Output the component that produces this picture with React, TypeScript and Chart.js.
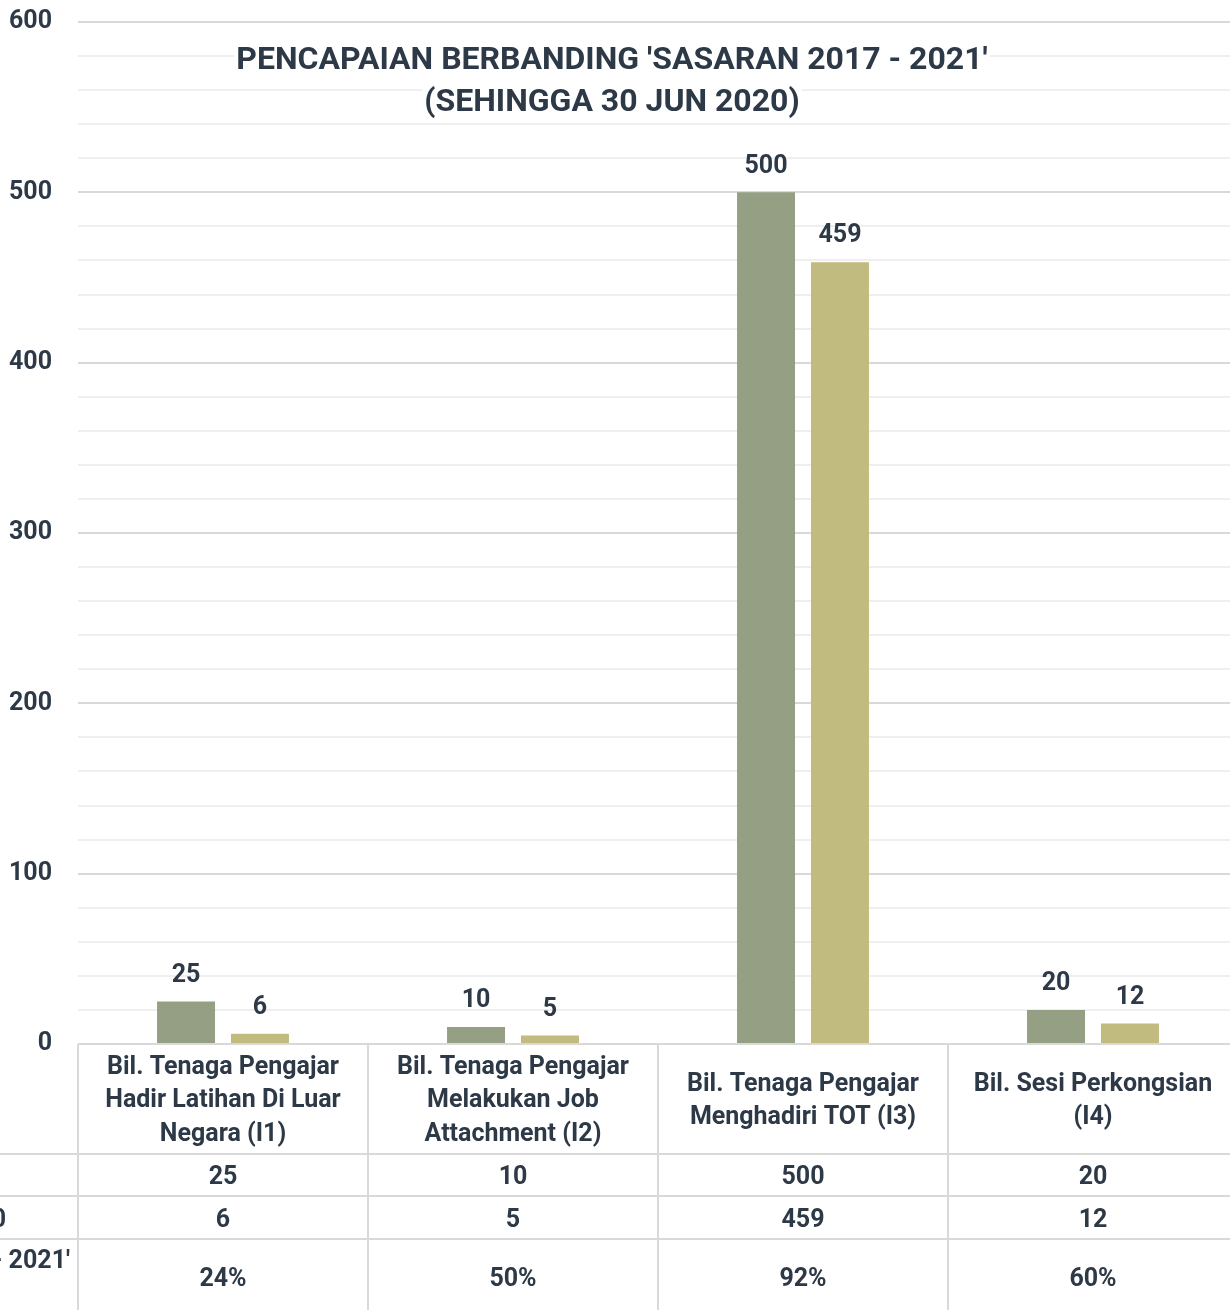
import React, { useEffect, useRef } from "react";
import { Chart, registerables } from "chart.js";

Chart.register(...registerables);

const titleLines = ["PENCAPAIAN BERBANDING 'SASARAN 2017 - 2021'", "(SEHINGGA 30 JUN 2020)"];
const categories: string[][] = [
  ["Bil. Tenaga Pengajar", "Hadir Latihan Di Luar", "Negara (I1)"],
  ["Bil. Tenaga Pengajar", "Melakukan Job", "Attachment (I2)"],
  ["Bil. Tenaga Pengajar", "Menghadiri TOT (I3)"],
  ["Bil. Sesi Perkongsian", "(I4)"],
];
const sasaran = [25, 10, 500, 20];
const pencapaian = [6, 5, 459, 12];
const peratus = ["24%", "50%", "92%", "60%"];
const rowLabels = ["Sasaran 2017 - 2021", "Pencapaian Sehingga 30 Jun 2020", "% Pencapaian Berbanding 'Sasaran 2017 - 2021'"];
const yTicksMax = 600;

const FONT = "'Liberation Sans Narrow', 'Arial Narrow', 'Roboto', sans-serif";
const TEXT = "#2d3947";
const GREEN = "#949f84";
const KHAKI = "#c2bb7f";
const LINE = "#d9d9d9";

const overlayPlugin = {
  id: "overlay",
  afterDatasetsDraw(chart: any) {
    const ctx = chart.ctx;
    ctx.save();
    ctx.fillStyle = TEXT;
    ctx.textAlign = "center";
    ctx.textBaseline = "middle";
    ctx.font = `bold 25px ${FONT}`;
    chart.data.datasets.forEach((ds: any, di: number) => {
      const meta = chart.getDatasetMeta(di);
      meta.data.forEach((bar: any, i: number) => {
        ctx.fillText(String(ds.data[i]), bar.x, bar.y - 26);
      });
    });
    ctx.restore();
  },
  afterDraw(chart: any) {
    const ctx = chart.ctx;
    const area = chart.chartArea;
    const xs = chart.scales.x;
    const W = chart.width;
    const bottom = area.bottom;
    const rowH = [110, 42, 43, 80];
    const rowTops: number[] = [bottom];
    for (let i = 0; i < rowH.length; i++) rowTops.push(rowTops[i] + rowH[i]);
    const catW = (area.right - area.left) / categories.length;

    ctx.save();
    // table lines
    ctx.strokeStyle = LINE;
    ctx.lineWidth = 2;
    for (let r = 1; r < 4; r++) {
      ctx.beginPath();
      ctx.moveTo(0, rowTops[r]);
      ctx.lineTo(W, rowTops[r]);
      ctx.stroke();
    }
    for (let c = 0; c <= categories.length; c++) {
      const x = area.left + c * catW;
      ctx.beginPath();
      ctx.moveTo(x, bottom);
      ctx.lineTo(x, chart.height);
      ctx.stroke();
    }

    // table texts
    ctx.fillStyle = TEXT;
    ctx.textBaseline = "middle";
    ctx.textAlign = "center";
    ctx.font = `bold 25px ${FONT}`;
    const lh = 33.5;
    const headC = bottom + rowH[0] / 2 + 2;
    categories.forEach((lines, i) => {
      const cx = xs.getPixelForValue(i);
      const y0 = headC - ((lines.length - 1) * lh) / 2;
      lines.forEach((l, k) => ctx.fillText(l, cx, y0 + k * lh));
      ctx.fillText(String(sasaran[i]), cx, rowTops[1] + rowH[1] / 2 + 3);
      ctx.fillText(String(pencapaian[i]), cx, rowTops[2] + rowH[2] / 2 + 3);
      ctx.fillText(peratus[i], cx, rowTops[3] + 41);
    });

    // row header labels (clipped by the canvas edge)
    ctx.textAlign = "right";
    ctx.fillText(rowLabels[1], 6, rowTops[2] + rowH[2] / 2 + 3);
    ctx.fillText(rowLabels[2], 70, rowTops[3] + 23);

    // title with white background
    ctx.font = `bold 32px ${FONT}`;
    ctx.textAlign = "center";
    const tx = 612;
    const tys = [61, 103];
    titleLines.forEach((t, i) => {
      const w = ctx.measureText(t).width;
      ctx.fillStyle = "#ffffff";
      ctx.fillRect(tx - w / 2 - 2, tys[i] - 17, w + 4, 34);
      ctx.fillStyle = TEXT;
      ctx.fillText(t, tx, tys[i]);
    });
    ctx.restore();
  },
};

export default function App() {
  const ref = useRef<HTMLCanvasElement | null>(null);
  useEffect(() => {
    if (!ref.current) return;
    const chart = new Chart(ref.current, {
      type: "bar",
      data: {
        labels: categories.map((c) => c.join(" ")),
        datasets: [
          {
            label: rowLabels[0],
            data: sasaran,
            backgroundColor: GREEN,
            categoryPercentage: 0.51,
            barPercentage: 0.784,
          },
          {
            label: rowLabels[1],
            data: pencapaian,
            backgroundColor: KHAKI,
            categoryPercentage: 0.51,
            barPercentage: 0.784,
          },
        ],
      },
      options: {
        responsive: false,
        animation: false,
        devicePixelRatio: 1,
        layout: { padding: { left: 0, top: 22, right: 2, bottom: 266 } },
        plugins: {
          legend: { display: false },
          title: { display: false },
          tooltip: { enabled: false },
        },
        scales: {
          x: {
            display: false,
            grid: { display: false },
          },
          y: {
            min: 0,
            max: yTicksMax,
            border: { display: false },
            afterFit: (s: any) => {
              s.width = 78;
              s.paddingTop = 0;
              s.paddingBottom = 0;
            },
            grid: {
              drawTicks: false,
              color: (c: any) => (c.tick && c.tick.value % 100 === 0 ? LINE : "#efefef"),
              lineWidth: 2,
            },
            ticks: {
              stepSize: 20,
              autoSkip: false,
              padding: 26,
              color: TEXT,
              font: { family: FONT, size: 25, weight: "bold" },
              callback: (v: any) => (Number(v) % 100 === 0 ? String(v) : ""),
            },
          },
        },
      },
      plugins: [overlayPlugin],
    });
    return () => chart.destroy();
  }, []);
  return (
    <div style={{ position: "absolute", left: 0, top: 0, width: 1230, height: 1310, overflow: "hidden", background: "#fff" }}>
      <canvas ref={ref} width={1240} height={1310} style={{ display: "block" }} />
    </div>
  );
}
